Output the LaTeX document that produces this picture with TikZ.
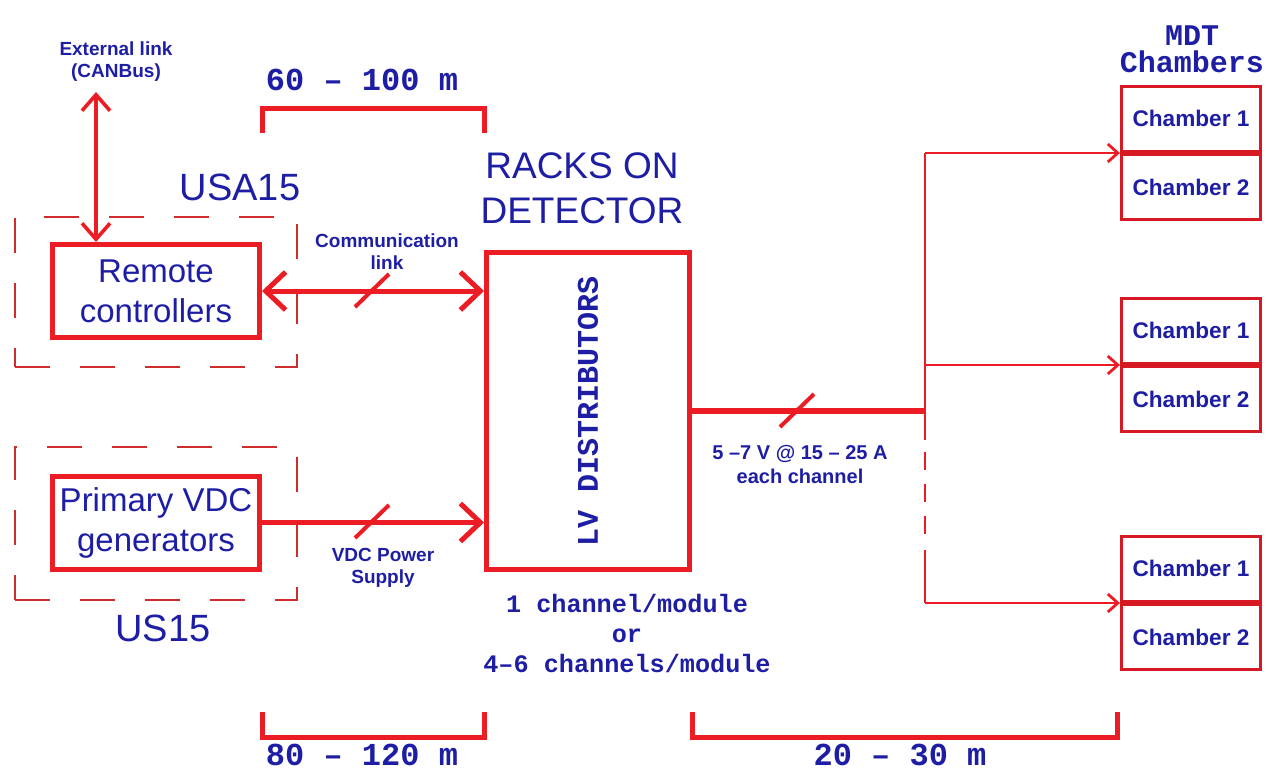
\documentclass[tikz,border=0pt]{standalone}
\usepackage{fontspec}
\setmainfont{Liberation Sans}
\newfontfamily\cadmono{Liberation Mono}
\usetikzlibrary{arrows.meta,positioning,calc}
\definecolor{wirered}{RGB}{236,28,36}
\definecolor{dashred}{RGB}{205,45,45}
\definecolor{chred}{RGB}{215,25,35}
\definecolor{labelblue}{RGB}{30,30,165}
\tikzset{
  basebox/.style={rectangle,draw=wirered,line width=2.5pt,align=center,text=labelblue},
  srcbox/.style={basebox,minimum width=103.5pt,minimum height=46.5pt,font=\fontsize{16.5}{20}\selectfont},
  distbox/.style={basebox,minimum width=101.5pt,minimum height=158.5pt,font=\cadmono\fontsize{15}{18}\selectfont\bfseries},
  chbox/.style={basebox,draw=chred,line width=1.6pt,minimum width=69.5pt,minimum height=32.5pt,font=\fontsize{11.3}{13}\selectfont\bfseries},
  areabox/.style={rectangle,draw=dashred,line width=1.1pt,dash pattern=on 17.5pt off 15pt},
  bigtext/.style={text=labelblue,align=center,font=\fontsize{18.5}{22.5}\selectfont},
  smalltext/.style={text=labelblue,align=center,font=\fontsize{9.5}{11}\selectfont\bfseries},
  monotext/.style={text=labelblue,align=center,inner sep=1pt,font=\cadmono\fontsize{16}{19}\selectfont\bfseries},
  wire/.style={draw=wirered,line width=2.5pt,line join=miter},
  bothArr/.style={wire,<->,>={Straight Barb[length=10pt,width=19pt]}},
  oneArr/.style={wire,->,>={Straight Barb[length=10pt,width=19pt]}},
  canArr/.style={wire,line width=1.8pt,<->,>={Straight Barb[length=8pt,width=14pt]}},
  busline/.style={draw=wirered,line width=1.4pt},
  brArr/.style={busline,->,>={Straight Barb[length=5pt,width=9pt]}},
  slashmark/.style={draw=wirered,line width=2pt}
}
\begin{document}
\begin{tikzpicture}[x=0.5pt,y=-0.5pt]
  \useasboundingbox (0,0) rectangle (1270,771);
  % sources in the caverns
  \node[srcbox] (rc) at (156,291) {Remote\\controllers};
  \node[srcbox] (vdc) at (156,522.5) {Primary VDC\\generators};
  \node[areabox,minimum width=141pt,minimum height=75pt] (usa) at (156,292) {};
  \node[areabox,minimum width=141pt,minimum height=76.5pt] (us) at (156,523.5) {};
  \node[bigtext,font=\fontsize{19}{22}\selectfont] (usalbl) at (240,187) {USA15};
  \node[bigtext,font=\fontsize{19}{22}\selectfont] (uslbl) at (163,628) {US15};
  \node[smalltext] (ext) at (116,62) {External link\\(CANBus)};
  \coordinate (canTop) at (96,92);
  \draw[canArr] (canTop) -- (canTop |- rc.north);
  % racks
  \node[distbox] (lv) at (588,411) {\rotatebox{90}{LV DISTRIBUTORS}};
  \node[bigtext] (racks) at (582,188) {RACKS ON\\DETECTOR};
  \node[monotext,font=\cadmono\fontsize{12.6}{15}\selectfont\bfseries] (chan) at (627,633)
    {1 channel/module\\or\\4–6 channels/module};
  \draw[bothArr] (rc.east) -- (rc.east -| lv.west);
  \draw[oneArr] (vdc.east) -- (vdc.east -| lv.west);
  \draw[slashmark] (372,291) ++(-17,16) -- ++(34,-33);
  \draw[slashmark] (372,522) ++(-17,16) -- ++(34,-33);
  \node[smalltext] (comlbl) at (387,252) {Communication\\link};
  \node[smalltext] (vdclbl) at (383,568) {VDC Power\\Supply};
  % chambers
  \node[monotext,font=\cadmono\fontsize{15}{13.5}\selectfont\bfseries] (mdt) at (1192,49) {MDT\\Chambers};
  \foreach \g/\y in {a/153,b/365,c/603}{
    \node[chbox,anchor=south] (\g1) at (1191,\y) {Chamber 1};
    \node[chbox,anchor=north] (\g2) at (1191,\y) {Chamber 2};
  }
  \coordinate (bus) at (925,411);
  \draw[wire,line width=2.8pt] (lv.east |- bus) -- (bus);
  \draw[slashmark] (797,411) ++(-17,16) -- ++(34,-33);
  \node[smalltext,font=\fontsize{10}{12}\selectfont\bfseries] (vlbl) at (800,464) {5 –7 V @ 15 – 25 A\\each channel};
  \draw[busline] (bus |- a1.south) -- (925,440);
  \draw[busline,dash pattern=on 0pt off 6pt on 9pt off 7pt on 9pt off 7pt on 9pt off 8pt] (925,440) -- (925,550);
  \draw[busline] (925,550) -- (bus |- c1.south);
  \foreach \g in {a,b,c}
    \draw[brArr] (bus |- \g1.south west) -- (\g1.south west);
  % cable lengths
  \draw[wire] (262,133) -- (262,108) -- (484,108) -- (484,133);
  \node[monotext] (len1) at (362,80) {60 – 100 m};
  \draw[wire] (262,712) -- (262,737) -- (484,737) -- (484,712);
  \node[monotext] (len2) at (362,755) {80 – 120 m};
  \draw[wire] (692,712) -- (692,737) -- (1117,737) -- (1117,712);
  \node[monotext] (len3) at (900,755) {20 – 30 m};
\end{tikzpicture}
\end{document}
